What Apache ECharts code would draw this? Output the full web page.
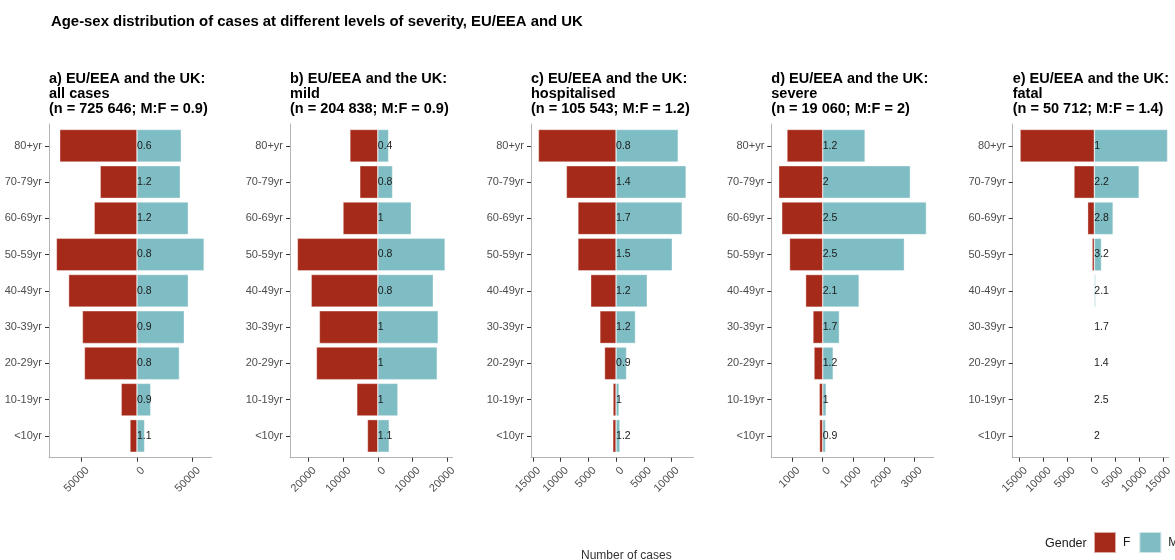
<!DOCTYPE html>
<html>
<head>
<meta charset="utf-8">
<title>Age-sex distribution of cases</title>
<script src="https://cdn.jsdelivr.net/npm/echarts@6/dist/echarts.min.js"></script>
<style>
  html, body { margin: 0; padding: 0; background: #ffffff; }
  #chart { width: 1175px; height: 560px; }
</style>
</head>
<body>
<div id="chart"></div>
<script>
// Age groups, top to bottom
const ageGroups = ['80+yr', '70-79yr', '60-69yr', '50-59yr', '40-49yr', '30-39yr', '20-29yr', '10-19yr', '<10yr'];

// Panel headings
const panelTitles = [
  'a) EU/EEA and the UK:\nall cases\n(n = 725 646; M:F = 0.9)',
  'b) EU/EEA and the UK:\nmild\n(n = 204 838; M:F = 0.9)',
  'c) EU/EEA and the UK:\nhospitalised\n(n = 105 543; M:F = 1.2)',
  'd) EU/EEA and the UK:\nsevere\n(n = 19 060; M:F = 2)',
  'e) EU/EEA and the UK:\nfatal\n(n = 50 712; M:F = 1.4)'
];

// Case counts by sex, same order as ageGroups
const femaleAll = [69500, 33100, 38500, 72500, 61500, 49100, 47300, 14200, 6300];
const maleAll   = [39900, 39000, 46200, 60400, 46200, 42600, 38200, 12400, 6900];

const femaleMild = [8060, 5210, 10050, 23220, 19240, 16870, 17730, 6070, 3000];
const maleMild   = [3130, 4270, 9670, 19430, 16020, 17440, 17160, 5800, 3300];

const femaleHosp = [14000, 8960, 6880, 6880, 4570, 2920, 2080, 550, 590];
const maleHosp   = [11210, 12630, 11920, 10140, 5630, 3500, 1900, 550, 710];

const femaleSevere = [1170, 1440, 1340, 1085, 560, 320, 285, 115, 105];
const maleSevere   = [1385, 2865, 3390, 2670, 1190, 545, 343, 115, 95];

const femaleFatal = [14950, 4100, 1350, 450, 120, 40, 10, 2, 1];
const maleFatal   = [14750, 9020, 3780, 1440, 252, 68, 14, 5, 2];

// Tick positions on the case-count axes (negative side = females)
const ticksAll    = [-50000, 0, 50000];
const ticksMild   = [-20000, -10000, 0, 10000, 20000];
const ticksHosp   = [-15000, -10000, -5000, 0, 5000, 10000];
const ticksSevere = [-1000, 0, 1000, 2000, 3000];
const ticksFatal  = [-15000, -10000, -5000, 0, 5000, 10000, 15000];

const panels = [
  { title: panelTitles[0], f: femaleAll,    m: maleAll,    ticks: ticksAll },
  { title: panelTitles[1], f: femaleMild,   m: maleMild,   ticks: ticksMild },
  { title: panelTitles[2], f: femaleHosp,   m: maleHosp,   ticks: ticksHosp },
  { title: panelTitles[3], f: femaleSevere, m: maleSevere, ticks: ticksSevere },
  { title: panelTitles[4], f: femaleFatal,  m: maleFatal,  ticks: ticksFatal }
];

// Layout
const FONT = '"Liberation Sans", Arial, Helvetica, sans-serif';
const COLOR_F = '#A52A19';
const COLOR_M = '#7FBDC4';
const AXIS_GREY = '#b3b3b3';
const LABEL_GREY = '#4d4d4d';
const panelLeft = [49, 290, 531, 771.3, 1012.7];
const panelWidth = 162.5;
const plotTop = 124;
const plotHeight = 333.7;
// discrete axis padded by 0.6 of a band on each side
const unit = plotHeight / (ageGroups.length + 0.2);
const bandTop = plotTop + 0.1 * unit;
const bandHeight = unit * ageGroups.length;

function ratioLabel(m, f) {
  return String(Math.round((m / f) * 10) / 10);
}

const titles = [{
  text: 'Age-sex distribution of cases at different levels of severity, EU/EEA and UK',
  left: 51, top: 14, padding: 0,
  textStyle: { fontFamily: FONT, fontSize: 14.9, fontWeight: 'bold', color: '#000' }
}];
const grids = [], xAxes = [], yAxes = [], series = [];

panels.forEach((p, i) => {
  const maxF = Math.max(...p.f), maxM = Math.max(...p.m);
  const pad = 0.05 * (maxF + maxM);
  const xmin = -maxF - pad, xmax = maxM + pad;

  titles.push({
    text: p.title,
    left: panelLeft[i], top: 71, padding: 0,
    textStyle: { fontFamily: FONT, fontSize: 14.5, fontWeight: 'bold', color: '#000', lineHeight: 15 }
  });

  // grid holding the bars (category bands)
  grids.push({ left: panelLeft[i], top: bandTop, width: panelWidth, height: bandHeight, containLabel: false });
  // grid carrying the panel frame and the count axis
  grids.push({ left: panelLeft[i], top: plotTop, width: panelWidth, height: plotHeight, containLabel: false });

  xAxes.push({
    type: 'value', gridIndex: 2 * i, min: xmin, max: xmax, show: false
  });
  xAxes.push({
    type: 'value', gridIndex: 2 * i + 1, min: xmin, max: xmax,
    axisLine: { show: true, onZero: false, lineStyle: { color: AXIS_GREY, width: 1 } },
    axisTick: { show: true, length: 4, customValues: p.ticks, lineStyle: { color: '#333' } },
    axisLabel: {
      customValues: p.ticks, rotate: 45, margin: 5,
      verticalAlign: 'top', padding: [3, 0, 0, 0],
      fontFamily: FONT, fontSize: 11, color: LABEL_GREY,
      formatter: v => String(Math.abs(v))
    },
    splitLine: { show: false }
  });

  yAxes.push({
    type: 'category', gridIndex: 2 * i, data: ageGroups, inverse: true,
    axisLine: { show: false, onZero: false },
    axisTick: { show: true, length: 4, alignWithLabel: true, lineStyle: { color: '#333' } },
    axisLabel: { margin: 7, fontFamily: FONT, fontSize: 11, color: LABEL_GREY },
    splitLine: { show: false }
  });
  yAxes.push({
    type: 'value', gridIndex: 2 * i + 1, min: 0, max: 1,
    axisLine: { show: true, onZero: false, lineStyle: { color: AXIS_GREY, width: 1 } },
    axisTick: { show: false }, axisLabel: { show: false }, splitLine: { show: false }
  });

  series.push({
    name: 'F', type: 'bar', xAxisIndex: 2 * i, yAxisIndex: 2 * i,
    stack: 'panel' + i, barWidth: '90%',
    data: p.f.map(v => -v),
    itemStyle: { color: COLOR_F, borderColor: 'rgba(255,255,255,0.6)', borderWidth: 0.6 }
  });
  series.push({
    name: 'M', type: 'bar', xAxisIndex: 2 * i, yAxisIndex: 2 * i,
    stack: 'panel' + i, barWidth: '90%',
    data: p.m,
    itemStyle: { color: COLOR_M, borderColor: 'rgba(255,255,255,0.6)', borderWidth: 0.6 },
    label: {
      show: true, position: 'insideLeft', distance: 0,
      fontFamily: FONT, fontSize: 10.5, color: '#1a1a1a',
      formatter: prm => ratioLabel(p.m[prm.dataIndex], p.f[prm.dataIndex])
    }
  });
});

const chart = echarts.init(document.getElementById('chart'), null, { renderer: 'canvas' });
chart.setOption({
  animation: false,
  backgroundColor: '#ffffff',
  title: titles,
  grid: grids,
  xAxis: xAxes,
  yAxis: yAxes,
  series: series,
  legend: {
    data: ['F', 'M'],
    left: 1093, top: 531, width: 140, padding: 0,
    itemWidth: 22, itemHeight: 21, itemGap: 8,
    icon: 'rect',
    textStyle: { fontFamily: FONT, fontSize: 12, color: '#1a1a1a', padding: [0, 0, 0, 2] }
  },
  graphic: [
    {
      type: 'text', left: 1045, top: 537,
      style: { text: 'Gender', font: '12.5px ' + FONT, fill: '#1a1a1a' }
    },
    {
      type: 'text', left: 581, top: 550,
      style: { text: 'Number of cases', font: '12px ' + FONT, fill: '#333333' }
    }
  ]
});
</script>
</body>
</html>
